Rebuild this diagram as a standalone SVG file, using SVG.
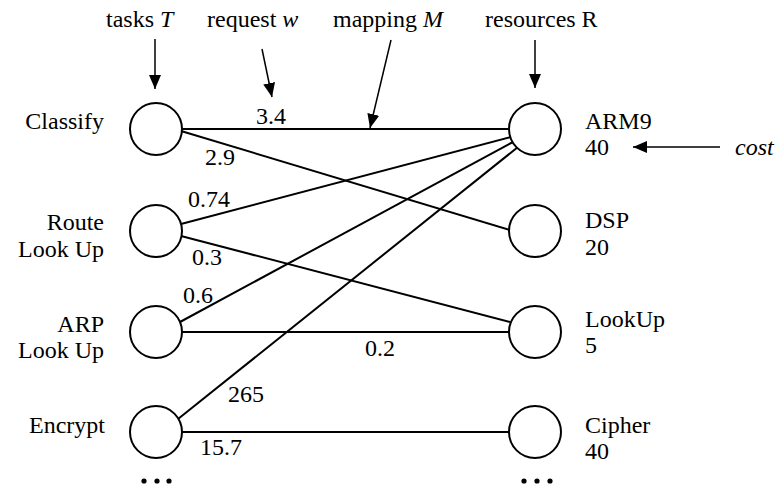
<svg xmlns="http://www.w3.org/2000/svg" width="779" height="488" viewBox="0 0 779 488" font-family="'Liberation Serif', 'DejaVu Serif', serif" font-size="24">
  <defs>
    <marker id="ah" markerWidth="14" markerHeight="12" refX="14" refY="6" orient="auto" markerUnits="userSpaceOnUse">
      <path d="M0,0 L14,6 L0,12 Z" fill="#000"/>
    </marker>
    <style>
      .it { font-style: italic; }
      .node circle { fill: #fff; stroke: #000; stroke-width: 2; }
      .edge { stroke: #000; stroke-width: 2; fill: none; }
      .ann { stroke: #000; stroke-width: 1.5; fill: none; marker-end: url(#ah); }
      .lbl { text-anchor: end; }
    </style>
  </defs>
  <rect width="779" height="488" fill="#fff"/>

  <g id="connectors">
    <line class="edge" x1="181" y1="129" x2="509" y2="129"/>
    <line class="edge" x1="181" y1="131" x2="510" y2="230"/>
    <line class="edge" x1="181" y1="224" x2="511" y2="137"/>
    <line class="edge" x1="181" y1="236" x2="510" y2="322"/>
    <line class="edge" x1="180" y1="322" x2="513" y2="142"/>
    <line class="edge" x1="181" y1="332" x2="509" y2="332"/>
    <line class="edge" x1="178" y1="419" x2="518" y2="147"/>
    <line class="edge" x1="181" y1="432" x2="509" y2="432"/>
  </g>

  <g id="edge-labels">
    <text x="271" y="124" text-anchor="middle">3.4</text>
    <text x="205" y="165">2.9</text>
    <text x="188" y="207">0.74</text>
    <text x="192" y="265">0.3</text>
    <text x="183" y="303">0.6</text>
    <text x="365" y="356">0.2</text>
    <text x="228" y="402">265</text>
    <text x="200" y="455">15.7</text>
  </g>

  <g id="annotations">
    <text x="106" y="27">tasks <tspan class="it">T</tspan></text>
    <line class="ann" x1="155" y1="39" x2="155" y2="89"/>
    <text x="207" y="27">request <tspan class="it">w</tspan></text>
    <line class="ann" x1="262" y1="49" x2="272" y2="97"/>
    <text x="333" y="27">mapping <tspan class="it">M</tspan></text>
    <line class="ann" x1="391" y1="40" x2="370" y2="128"/>
    <text x="485" y="27">resources R</text>
    <line class="ann" x1="535" y1="40" x2="535" y2="88"/>
    <text x="735" y="155" class="it">cost</text>
    <line class="ann" x1="720" y1="147" x2="633" y2="147"/>
  </g>

  <g id="task-classify" class="node">
    <circle cx="156" cy="129" r="26"/>
    <text class="lbl" x="104" y="129">Classify</text>
  </g>
  <g id="task-route" class="node">
    <circle cx="156" cy="231" r="26"/>
    <text class="lbl" x="104" y="230">Route</text>
    <text class="lbl" x="104" y="257">Look Up</text>
  </g>
  <g id="task-arp" class="node">
    <circle cx="156" cy="332" r="26"/>
    <text class="lbl" x="104" y="332">ARP</text>
    <text class="lbl" x="104" y="358">Look Up</text>
  </g>
  <g id="task-encrypt" class="node">
    <circle cx="156" cy="432" r="26"/>
    <text class="lbl" x="105" y="433">Encrypt</text>
  </g>

  <g id="res-arm9" class="node">
    <circle cx="535" cy="129" r="26"/>
    <text x="585" y="129">ARM9</text>
    <text x="585" y="155">40</text>
  </g>
  <g id="res-dsp" class="node">
    <circle cx="535" cy="231" r="26"/>
    <text x="585" y="228">DSP</text>
    <text x="585" y="255">20</text>
  </g>
  <g id="res-lookup" class="node">
    <circle cx="535" cy="332" r="26"/>
    <text x="585" y="327">LookUp</text>
    <text x="585" y="353">5</text>
  </g>
  <g id="res-cipher" class="node">
    <circle cx="535" cy="432" r="26"/>
    <text x="585" y="433">Cipher</text>
    <text x="585" y="459">40</text>
  </g>

  <g id="ellipsis-left">
    <circle cx="144" cy="481" r="2.6" fill="#000"/>
    <circle cx="157" cy="481" r="2.6" fill="#000"/>
    <circle cx="169" cy="481" r="2.6" fill="#000"/>
  </g>
  <g id="ellipsis-right">
    <circle cx="524" cy="481" r="2.6" fill="#000"/>
    <circle cx="537" cy="481" r="2.6" fill="#000"/>
    <circle cx="550" cy="481" r="2.6" fill="#000"/>
  </g>
</svg>
